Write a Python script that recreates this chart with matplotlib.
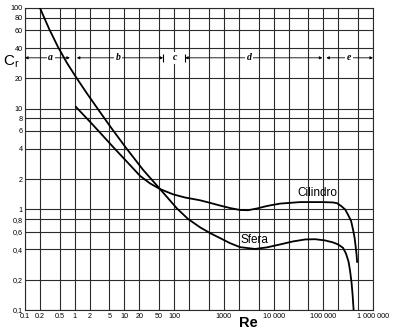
"""Drag coefficient Cr vs Reynolds number for sphere and cylinder."""

import matplotlib

matplotlib.use("Agg")
import matplotlib.pyplot as plt

# curves (Re, Cr)
sphere_re = [0.2, 0.304, 0.461, 0.70, 1.06, 1.69, 2.81, 5.37, 10.8, 23.7, 52.0,
             114, 190, 332, 527, 839, 1334, 2118, 4246, 7396, 13520, 24660,
             43050, 68390, 108700, 157400, 198600, 250000, 287700, 322800,
             346000, 370700, 389000, 407400]
sphere_cr = [100, 62.4, 41.0, 28.4, 20.6, 14.6, 10.2, 6.49, 4.07, 2.47, 1.59,
             1.02, 0.803, 0.663, 0.581, 0.518, 0.461, 0.421, 0.404, 0.419, 0.448,
             0.480, 0.502, 0.505, 0.491, 0.469, 0.448, 0.414, 0.361, 0.301,
             0.244, 0.186, 0.141, 0.100]

cyl_re = [1.06, 1.54, 2.33, 3.71, 5.90, 11.3, 20.6, 32.7, 52.0, 95.1, 166, 332,
          527, 839, 1334, 2118, 3069, 4656, 7396, 13520, 34120, 99080, 157400,
          189700, 228000, 274700, 308300, 362400, 398100, 426600, 446700,
          467700, 478600]
cyl_cr = [10.4, 8.56, 6.89, 5.36, 4.17, 2.96, 2.15, 1.81, 1.59, 1.41, 1.31, 1.23,
          1.16, 1.09, 1.03, 0.985, 0.98, 1.02, 1.08, 1.14, 1.18, 1.18, 1.17,
          1.15, 1.08, 0.998, 0.90, 0.767, 0.624, 0.520, 0.433, 0.352, 0.301]

x_grid = [0.1, 0.2, 0.5, 1, 2, 5, 10, 20, 50, 100, 200, 500, 1e3, 2e3, 5e3,
          1e4, 2e4, 5e4, 1e5, 2e5, 5e5, 1e6]
x_labels = ["0.1", "0.2", "0.5", "1", "2", "5", "10", "20", "50", "100", "", "",
            "1000", "", "", "10 000", "", "", "100 000", "", "", "1 000 000"]
y_grid = [0.1, 0.2, 0.4, 0.6, 0.8, 1, 2, 4, 6, 8, 10, 20, 40, 60, 80, 100]
y_labels = ["0,1", "0,2", "0,4", "0,6", "0,8", "1", "2", "4", "6", "8",
            "10", "20", "40", "60", "80", "100"]

# flow regimes a..e along the top
zone_names = ["a", "b", "c", "d", "e"]
zone_from = [0.1, 1.1, 60, 166, 1.15e5]
zone_to = [0.8, 60, 166, 9.6e4, 1e6]
zone_mid = [0.33, 7.4, 104, 3200, 3.3e5]
zone_level = 32

fig = plt.figure(figsize=(3.93, 3.33), dpi=100)
ax = fig.add_axes([25 / 393, 1 - 310 / 333, 348 / 393, 302 / 333])
ax.set_xscale("log")
ax.set_yscale("log")
ax.set_xlim(0.1, 1e6)
ax.set_ylim(0.1, 100)
ax.minorticks_off()

grid_col = "#2b2b2b"
for v in x_grid:
    ax.axvline(v, color=grid_col, lw=0.8, zorder=1)
for v in y_grid:
    ax.axhline(v, color=grid_col, lw=0.8, zorder=1)
for s in ax.spines.values():
    s.set_color(grid_col)
    s.set_linewidth(0.8)

tick_font = dict(family="Liberation Sans", size=5.2)
ax.set_xticks(x_grid, x_labels, **tick_font)
ax.set_yticks(y_grid, y_labels, **tick_font)
ax.tick_params(length=0, pad=2)
ax.tick_params(axis="y", pad=1.5)

line_kw = dict(color="black", lw=1.3, zorder=3, solid_joinstyle="round")
ax.plot(sphere_re, sphere_cr, **line_kw)
ax.plot(cyl_re, cyl_cr, **line_kw)

ax.text(75000, 1.46, "Cilindro", family="Liberation Sans", size=8.5,
        ha="center", va="center", zorder=4)
ax.text(4050, 0.50, "Sfera", family="Liberation Sans", size=8.5,
        ha="center", va="center", zorder=4)

for name, x0, x1, xm in zip(zone_names, zone_from, zone_to, zone_mid):
    if name != "c":
        ax.annotate("", xy=(x1, zone_level), xytext=(x0, zone_level),
                    arrowprops=dict(arrowstyle="<|-|>", lw=0.6, color="black",
                                    shrinkA=0, shrinkB=0, mutation_scale=4),
                    zorder=4)
    ax.text(xm, zone_level, name, family="Liberation Serif", style="italic",
            weight="bold", size=7, ha="center", va="center", zorder=5,
            bbox=dict(boxstyle="square,pad=0.15", fc="white", ec="none"))
ax.vlines([zone_from[2], zone_to[2]], zone_level / 1.1, zone_level * 1.1,
          color="black", lw=0.8, zorder=4)

fig.text(3 / 393, 1 - 62 / 333, r"$\mathregular{C_r}$", family="Liberation Sans",
         size=11, ha="left", va="center")
fig.text(248 / 393, 1 - 323 / 333, "Re", family="Liberation Sans", weight="bold",
         size=10.5, ha="center", va="center")

fig.savefig("out.png", dpi=100, facecolor="white")
plt.close(fig)
